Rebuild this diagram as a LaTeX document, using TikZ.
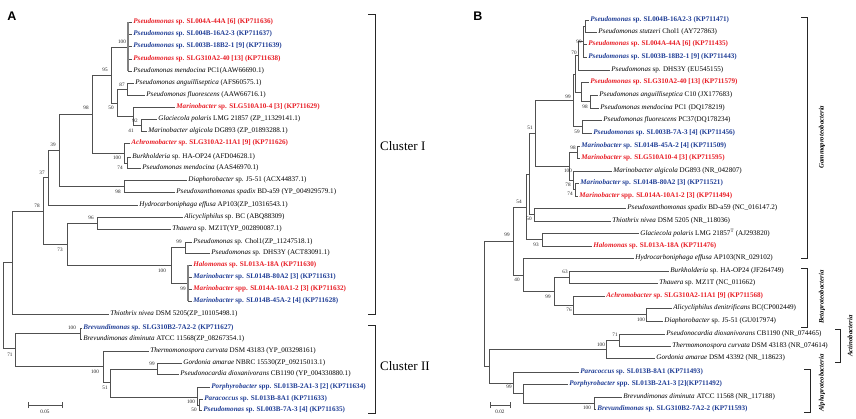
\documentclass[tikz,border=0pt]{standalone}
\usepackage{fontspec}
\setmainfont{Liberation Serif}
\newfontfamily\hvfont{Liberation Sans}
\definecolor{myred}{RGB}{232,30,38}
\definecolor{myblue}{RGB}{32,62,150}
\definecolor{lgray}{RGB}{80,80,80}
\newcommand\lfs{\fontsize{7.1}{8}\selectfont}
\newcommand\bfs{\fontsize{5.2}{6}\selectfont}
\newcommand\cL[3]{\textcolor{#1}{\bfseries\textit{#2} #3}}
\newcommand\kL[2]{\textit{#1} #2}
\begin{document}
\begin{tikzpicture}[x=1pt,y=-1pt,
  br/.style={draw=lgray,line width=0.6pt},
  thk/.style={draw=gray,line width=1.6pt},
  brk/.style={draw=black!85,line width=0.8pt},
  lf/.style={anchor=west,inner sep=1.2pt,font=\lfs},
  bs/.style={font=\bfs,inner sep=0pt,text=black!85},
  clab/.style={anchor=west,inner sep=0pt,font=\fontsize{13}{14}\selectfont},
  glab/.style={rotate=90,inner sep=0pt,font=\fontsize{6.8}{8}\selectfont\bfseries\itshape},
  plab/.style={inner sep=0pt,font=\hvfont\fontsize{12.5}{13}\selectfont\bfseries}]
\useasboundingbox (0,0) rectangle (856,418);
\fill[white] (0,0) rectangle (856,418);

% ---------------- Panel A ----------------
\node[plab] (pA) at (12,16) {A};
% internal nodes
\coordinate (rA) at (3,305);
\coordinate (nI) at (12,262);
\coordinate (n78) at (43,211);
\coordinate (n37) at (48,177);
\coordinate (n39) at (59,150);
\coordinate (n98) at (92,114);
\coordinate (n95) at (111,75);
\coordinate (n100) at (128,47);
\coordinate (n50) at (117,103);
\coordinate (n87) at (127,89);
\coordinate (nMa) at (133,116);
\coordinate (n92) at (141,125);
\coordinate (nAc) at (124,153);
\coordinate (n100c) at (127,163);
\coordinate (n98b) at (124,186);
\coordinate (n73) at (67,244);
\coordinate (n96) at (97,223);
\coordinate (n100d) at (171,265);
\coordinate (n99c) at (185,247);
\coordinate (nM4) at (188,283);
\coordinate (nII) at (15,348);
\coordinate (nBr) at (80,333);
\coordinate (n100e) at (103,366);
\coordinate (n51) at (110,382);
\coordinate (n99g) at (157,369);
\coordinate (n100f) at (197,397);
\coordinate (nPP) at (199,405);
% leaves
\node[lf] (a1) at (132,22) {\cL{myred}{Pseudomonas}{sp. SL004A-44A [6] (KP711636)}};
\node[lf] (a2) at (132,34) {\cL{myblue}{Pseudomonas}{sp. SL004B-16A2-3 (KP711637)}};
\node[lf] (a3) at (132,46) {\cL{myblue}{Pseudomonas}{sp. SL003B-18B2-1 [9] (KP711639)}};
\node[lf] (a4) at (132,59) {\cL{myred}{Pseudomonas}{sp. SLG310A2-40 [13] (KP711638)}};
\node[lf] (a5) at (132,71) {\kL{Pseudomonas mendocina}{PC1(AAW66690.1)}};
\node[lf] (a6) at (134,83) {\kL{Pseudomonas anguilliseptica}{(AFS60575.1)}};
\node[lf] (a7) at (145,95) {\kL{Pseudomonas fluorescens}{(AAW66716.1)}};
\node[lf] (a8) at (175,107) {\cL{myred}{Marinobacter}{sp. SLG510A10-4 [3] (KP711629)}};
\node[lf] (a9) at (157,119) {\kL{Glaciecola polaris}{LMG 21857 (ZP\_11329141.1)}};
\node[lf] (a10) at (147,131) {\kL{Marinobacter algicola}{DG893 (ZP\_01893288.1)}};
\node[lf] (a11) at (130,143) {\cL{myred}{Achromobacter}{sp. SLG310A2-11A1 [9] (KP711626)}};
\node[lf] (a12) at (131,157) {\kL{Burkholderia}{sp. HA-OP24 (AFD04628.1)}};
\node[lf] (a13) at (141,168) {\kL{Pseudomonas mendocina}{(AAS46970.1)}};
\node[lf] (a14) at (187,180) {\kL{Diaphorobacter}{sp. J5-51 (ACX44837.1)}};
\node[lf] (a15) at (175,192) {\kL{Pseudoxanthomonas spadix}{BD-a59 (YP\_004929579.1)}};
\node[lf] (a16) at (138,205) {\kL{Hydrocarboniphaga effusa}{AP103(ZP\_10316543.1)}};
\node[lf] (a17) at (183,217) {\kL{Alicycliphilus}{sp. BC (ABQ88309)}};
\node[lf] (a18) at (171,229) {\kL{Thauera}{sp. MZ1T(YP\_002890087.1)}};
\node[lf] (a19) at (192,242) {\kL{Pseudomonas}{sp. Chol1(ZP\_11247518.1)}};
\node[lf] (a20) at (210,253) {\kL{Pseudomonas}{sp. DHS3Y (ACT83091.1)}};
\node[lf] (a21) at (192,265) {\cL{myred}{Halomonas}{sp. SL013A-18A (KP711630)}};
\node[lf] (a22) at (192,277) {\cL{myblue}{Marinobacter}{sp. SL014B-80A2 [3] (KP711631)}};
\node[lf] (a23) at (192,289) {\cL{myred}{Marinobacter}{spp. SL014A-10A1-2 [3] (KP711632)}};
\node[lf] (a24) at (192,301) {\cL{myblue}{Marinobacter}{sp. SL014B-45A-2 [4] (KP711628)}};
\node[lf] (a25) at (109,314) {\kL{Thiothrix nivea}{DSM 5205(ZP\_10105498.1)}};
\node[lf] (a26) at (82,328) {\cL{myblue}{Brevundimonas}{sp. SLG310B2-7A2-2 (KP711627)}};
\node[lf] (a27) at (82,339) {\kL{Brevundimonas diminuta}{ATCC 11568(ZP\_08267354.1)}};
\node[lf] (a28) at (149,351) {\kL{Thermomonospora curvata}{DSM 43183 (YP\_003298161)}};
\node[lf] (a29) at (182,363) {\kL{Gordonia amarae}{NBRC 15530(ZP\_09215013.1)}};
\node[lf] (a30) at (179,374) {\kL{Pseudonocardia dioxanivorans}{CB1190 (YP\_004330880.1)}};
\node[lf] (a31) at (210,387) {\cL{myblue}{Porphyrobacter}{spp. SL013B-2A1-3 [2] (KP711634)}};
\node[lf] (a32) at (203,399) {\cL{myblue}{Paracoccus}{sp. SL013B-8A1 (KP711633)}};
\node[lf] (a33) at (202,410) {\cL{myblue}{Pseudomonas}{sp. SL003B-7A-3 [4] (KP711635)}};
% branches
\foreach \p/\c in {rA/nI,rA/nII,nI/n78,nI/a25,n78/n37,n78/n73,n37/n39,n37/a16,
  n39/n98,n39/n98b,n98/n95,n98/nAc,n95/n100,n95/n50,n100/a1,n100/a2,n100/a3,n100/a4,n100/a5,
  n50/n87,n50/nMa,n87/a6,n87/a7,nMa/a8,nMa/n92,n92/a9,n92/a10,nAc/a11,nAc/n100c,
  n100c/a12,n100c/a13,n98b/a14,n98b/a15,n73/n96,n73/n100d,n96/a17,n96/a18,
  n100d/n99c,n100d/nM4,n99c/a19,n99c/a20,nM4/a21,nM4/a22,nM4/a23,nM4/a24,
  nII/nBr,nII/n100e,nBr/a26,nBr/a27,n100e/a28,n100e/n51,n51/n99g,n51/n100f,
  n99g/a29,n99g/a30,n100f/a31,n100f/nPP,nPP/a32,nPP/a33}
  \draw[br] (\p) |- (\c);
\draw[thk] (n100 |- a1) -- (n100 |- a5);
\draw[thk] (nM4 |- a21) -- (nM4 |- a24);
% bootstrap values A
\foreach \v/\x/\y [count=\i] in {100/122/42,95/105/70,87/122/85,50/111/108,98/86/108,92/135/121,
  41/131/131,39/53/145,100/117/158,74/120/168,37/42/173,98/118/192,78/37/206,96/91/218,
  99/179/242,73/60/250,100/162/271,99/183/289,100/72/328,71/10/355,100/95/372,99/152/364,
  51/105/388,100/191/402,50/194/410}
  \node[bs] (bA\i) at (\x,\y) {\v};
% scale bar A
\coordinate (sA1) at (28,405); \coordinate (sA2) at (62,405);
\draw[br] (sA1) -- (sA2);
\draw[br] ([yshift=-3pt]sA1) -- ([yshift=3pt]sA1);
\draw[br] ([yshift=-3pt]sA2) -- ([yshift=3pt]sA2);
\node[bs] (sAl) at (45,412) {0.05};
% clusters
\draw[brk] (368,14) -- (375,14) -- (375,314) -- (368,314);
\node[clab] (cl1) at (380,146) {Cluster I};
\draw[brk] (368,325) -- (375,325) -- (375,413) -- (368,413);
\node[clab] (cl2) at (380,366) {Cluster II};

% ---------------- Panel B ----------------
\node[plab] (pB) at (478,16) {B};
\coordinate (rB) at (484,303.5);
\coordinate (nGB) at (513,241);
\coordinate (n54) at (526,207);
\coordinate (nQ) at (529,174);
\coordinate (m51) at (535,133);
\coordinate (nPs) at (573,100);
\coordinate (nA) at (575,74);
\coordinate (n70) at (578,55.5);
\coordinate (m99) at (583,41);
\coordinate (nB12) at (585,26);
\coordinate (nB6) at (581,92);
\coordinate (m98) at (590,101.5);
\coordinate (nB) at (582,126.5);
\coordinate (mMa) at (569,166);
\coordinate (m98m) at (577,152);
\coordinate (m100m) at (573,180);
\coordinate (m78) at (575,189.5);
\coordinate (m50) at (534,214.5);
\coordinate (m93) at (542,239.5);
\coordinate (m40) at (523,275);
\coordinate (nBeta) at (554,291);
\coordinate (m63) at (569,277);
\coordinate (m76) at (573,305);
\coordinate (m100ad) at (646,314.5);
\coordinate (nAA) at (489,366);
\coordinate (nAct) at (606,349);
\coordinate (m71) at (619,340);
\coordinate (nAlp) at (513,383);
\coordinate (nPB) at (523,393.5);
\coordinate (nBrev) at (594,403);
% leaves B
\node[lf] (b1) at (589,20) {\cL{myblue}{Pseudomonas}{sp. SL004B-16A2-3 (KP711471)}};
\node[lf] (b2) at (597,32) {\kL{Pseudomonas stutzeri}{Chol1 (AY727863)}};
\node[lf] (b3) at (587,44) {\cL{myred}{Pseudomonas}{sp. SL004A-44A [6] (KP711435)}};
\node[lf] (b4) at (587,57) {\cL{myblue}{Pseudomonas}{sp. SL003B-18B2-1 [9] (KP711443)}};
\node[lf] (b5) at (610,70) {\kL{Pseudomonas}{sp. DHS3Y (EU545155)}};
\node[lf] (b6) at (589,82) {\cL{myred}{Pseudomonas}{sp. SLG310A2-40 [13] (KP711579)}};
\node[lf] (b7) at (598,95) {\kL{Pseudomonas anguilliseptica}{C10 (JX177683)}};
\node[lf] (b8) at (599,108) {\kL{Pseudomonas mendocina}{PC1 (DQ178219)}};
\node[lf] (b9) at (602,120) {\kL{Pseudomonas fluorescens}{PC37(DQ178234)}};
\node[lf] (b10) at (592,133) {\cL{myblue}{Pseudomonas}{sp. SL003B-7A-3 [4] (KP711456)}};
\node[lf] (b11) at (580,146) {\cL{myblue}{Marinobacter}{sp. SL014B-45A-2 [4] (KP711509)}};
\node[lf] (b12) at (580,158) {\cL{myred}{Marinobacter}{sp. SLG510A10-4 [3] (KP711595)}};
\node[lf] (b13) at (612,171) {\kL{Marinobacter algicola}{DG893 (NR\_042807)}};
\node[lf] (b14) at (579,183) {\cL{myblue}{Marinobacter}{sp. SL014B-80A2 [3] (KP711521)}};
\node[lf] (b15) at (578,196) {\cL{myred}{Marinobacter}{spp. SL014A-10A1-2 [3] (KP711494)}};
\node[lf] (b16) at (626,208) {\kL{Pseudoxanthomonas spadix}{BD-a59 (NC\_016147.2)}};
\node[lf] (b17) at (611,221) {\kL{Thiothrix nivea}{DSM 5205 (NR\_118036)}};
\node[lf] (b18) at (639,233) {\kL{Glaciecola polaris}{LMG 21857\textsuperscript{T} (AJ293820)}};
\node[lf] (b19) at (592,246) {\cL{myred}{Halomonas}{sp. SL013A-18A (KP711476)}};
\node[lf] (b20) at (634,258) {\kL{Hydrocarboniphaga effusa}{AP103(NR\_029102)}};
\node[lf] (b21) at (669,271) {\kL{Burkholderia}{sp. HA-OP24 (JF264749)}};
\node[lf] (b22) at (658,283) {\kL{Thauera}{sp. MZ1T (NC\_011662)}};
\node[lf] (b23) at (605,296) {\cL{myred}{Achromobacter}{sp. SLG310A2-11A1 [9] (KP711568)}};
\node[lf] (b24) at (672,308) {\kL{Alicycliphilus denitrificans}{BC(CP002449)}};
\node[lf] (b25) at (663,321) {\kL{Diaphorobacter}{sp. J5-51 (GU017974)}};
\node[lf] (b26) at (665,334) {\kL{Pseudonocardia dioxanivorans}{CB1190 (NR\_074465)}};
\node[lf] (b27) at (671,346) {\kL{Thermomonospora curvata}{DSM 43183 (NR\_074614)}};
\node[lf] (b28) at (655,358) {\kL{Gordonia amarae}{DSM 43392 (NR\_118623)}};
\node[lf] (b29) at (579,372) {\cL{myblue}{Paracoccus}{sp. SL013B-8A1 (KP711493)}};
\node[lf] (b30) at (568,384) {\cL{myblue}{Porphyrobacter}{spp. SL013B-2A1-3 [2](KP711492)}};
\node[lf] (b31) at (622,397) {\kL{Brevundimonas diminuta}{ATCC 11568 (NR\_117188)}};
\node[lf] (b32) at (596,409) {\cL{myblue}{Brevundimonas}{sp. SLG310B2-7A2-2 (KP711593)}};
\foreach \p/\c in {rB/nGB,rB/nAA,nGB/n54,nGB/m40,n54/nQ,n54/m93,nQ/m51,nQ/m50,
  m51/nPs,m51/mMa,nPs/nA,nPs/nB,nA/n70,nA/nB6,n70/m99,n70/b5,m99/nB12,m99/b3,m99/b4,
  nB12/b1,nB12/b2,nB6/b6,nB6/m98,m98/b7,m98/b8,nB/b9,nB/b10,mMa/m98m,mMa/m100m,
  m98m/b11,m98m/b12,m100m/b13,m100m/m78,m78/b14,m78/b15,m50/b16,m50/b17,m93/b18,m93/b19,
  m40/b20,m40/nBeta,nBeta/m63,nBeta/m76,m63/b21,m63/b22,m76/b23,m76/m100ad,
  m100ad/b24,m100ad/b25,nAA/nAct,nAA/nAlp,nAct/m71,nAct/b28,m71/b26,m71/b27,
  nAlp/b29,nAlp/nPB,nPB/b30,nPB/nBrev,nBrev/b31,nBrev/b32}
  \draw[br] (\p) |- (\c);
\foreach \v/\x/\y [count=\i] in {99/579/42,70/574/53,99/568/97,98/585/107,59/577/132,
  51/530/128,98/573/148,100/568/171,78/568/185,74/570/194,54/519/202,50/529/219,
  93/536/245,99/507/235,40/517/280,63/565/272,99/548/297,76/569/310,100/641/320,
  71/615/335,100/601/345,99/509/387,100/587/408}
  \node[bs] (bB\i) at (\x,\y) {\v};
% scale bar B
\coordinate (sB1) at (490,405); \coordinate (sB2) at (510,405);
\draw[br] (sB1) -- (sB2);
\draw[br] ([yshift=-3pt]sB1) -- ([yshift=3pt]sB1);
\draw[br] ([yshift=-3pt]sB2) -- ([yshift=3pt]sB2);
\node[bs] (sBl) at (500,412) {0.02};
% group brackets
\draw[brk] (801,17) -- (807,17) -- (807,258) -- (801,258);
\node[glab] (gG) at (822,137) {Gammaproteobacteria};
\draw[brk] (801,268) -- (807,268) -- (807,327) -- (801,327);
\node[glab] (gB) at (822,297) {Betaproteobacteria};
\draw[brk] (835,329) -- (840,329) -- (840,362) -- (835,362);
\node[glab] (gA) at (850,336) {Actinobacteria};
\draw[brk] (804,369) -- (810,369) -- (810,412) -- (804,412);
\node[glab] (gL) at (822,383) {Alphaproteobacteria};
\end{tikzpicture}
\end{document}
